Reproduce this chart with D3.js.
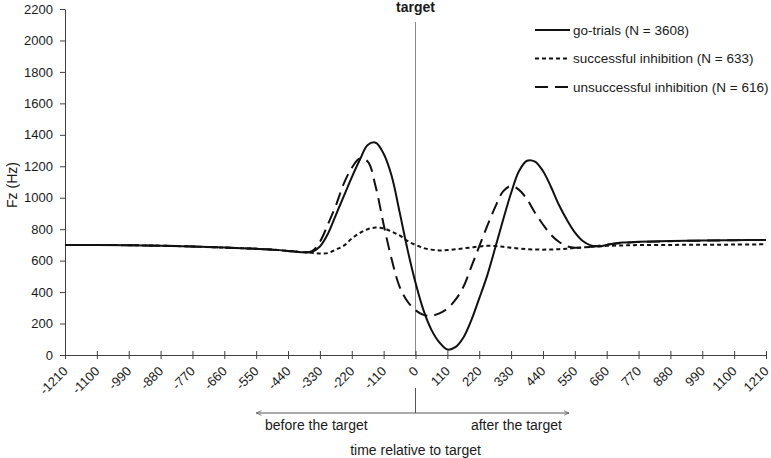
<!DOCTYPE html>
<html>
<head>
<meta charset="utf-8">
<script src="https://cdn.jsdelivr.net/npm/d3@7"></script>
<style>
  body { margin: 0; background: #fff; }
  text { font-family: "Liberation Sans", Arial, sans-serif; fill: #1a1a1a; }
  .axis path, .axis line { stroke: #404040; }
</style>
</head>
<body>
<div id="chart"></div>
<script>
// time points (ms relative to target)
const times = [-1210, -1100, -990, -880, -770, -660, -550, -495, -440, -412.5, -385, -357.5,
  -330, -302.5, -275, -247.5, -220, -192.5, -165, -137.5, -110, -82.5, -55, -27.5,
  0, 27.5, 55, 82.5, 110, 137.5, 165, 192.5, 220, 247.5, 275, 302.5, 330, 357.5,
  385, 412.5, 440, 467.5, 495, 522.5, 550, 577.5, 605, 632.5, 660, 715, 770, 880,
  990, 1100, 1210];

const goTrials = [700, 700, 698, 695, 690, 683, 675, 670, 662, 657, 653, 656,
  690, 770, 890, 1010, 1130, 1240, 1335, 1350, 1280, 1140, 910, 670,
  460, 285, 160, 80, 35, 50, 110, 220, 360, 505, 680, 860, 1030, 1170,
  1235, 1230, 1170, 1070, 955, 860, 780, 725, 697, 690, 700, 715, 720, 725,
  728, 730, 732];

const successfulInhibition = [700, 700, 698, 695, 690, 683, 675, 670, 662, 658, 653, 650,
  645, 648, 670, 695, 740, 775, 800, 810, 805, 785, 760, 725,
  700, 680, 670, 665, 667, 672, 678, 684, 690, 694, 693, 688, 682, 677,
  673, 671, 670, 671, 673, 676, 680, 684, 688, 691, 694, 697, 699, 700,
  701, 702, 704];

const unsuccessfulInhibition = [700, 700, 698, 695, 690, 683, 675, 670, 662, 657, 653, 660,
  720, 830, 950, 1090, 1190, 1250, 1230, 1070, 830, 610, 435, 340,
  285, 255, 250, 265, 295, 350, 432, 560, 690, 820, 940, 1040, 1075, 1050,
  990, 905, 830, 765, 720, 692, 682, 683, 688, 695, 702, 712, 718, 724,
  727, 730, 732];

const seriesNames = ['go-trials (N = 3608)', 'successful inhibition (N = 633)', 'unsuccessful inhibition (N = 616)'];
const seriesDash = ['none', '4,3', '13,7'];
const xTicks = d3.range(-1210, 1211, 110);
const yTicks = d3.range(0, 2201, 200);

class Chart {
    constructor(_config) {
        this.config = {
            parentElement: _config.parentElement,
            containerWidth: _config.width,
            containerHeight: _config.height,
        };
        this.margin = _config.margin;
        this.initVis();
    }

    initVis() {
        let vis = this;
        vis.width = vis.config.containerWidth - vis.margin.left - vis.margin.right;
        vis.height = vis.config.containerHeight - vis.margin.top - vis.margin.bottom;

        vis.xScale = d3.scaleLinear().domain([-1210, 1210]).range([0, vis.width]);
        vis.yScale = d3.scaleLinear().domain([0, 2200]).range([vis.height, 0]);

        vis.root = d3.select(vis.config.parentElement)
            .append('svg')
            .attr('width', vis.config.containerWidth)
            .attr('height', vis.config.containerHeight);

        vis.defs = vis.root.append('defs');
        vis.defs.append('marker')
            .attr('id', 'arrow')
            .attr('viewBox', '0 0 10 10')
            .attr('refX', 9).attr('refY', 5)
            .attr('markerWidth', 6).attr('markerHeight', 6)
            .attr('orient', 'auto-start-reverse')
            .append('path')
            .attr('d', 'M0,1 L9,5 L0,9')
            .attr('fill', 'none')
            .attr('stroke', '#555')
            .attr('stroke-width', 1.2);

        vis.svg = vis.root.append('g')
            .attr('transform', `translate(${vis.margin.left}, ${vis.margin.top})`);

        // plain hyphen minus like the original
        vis.xAxis = d3.axisBottom(vis.xScale).tickValues(xTicks).tickSize(4).tickSizeOuter(0).tickFormat(d => String(d));
        vis.yAxis = d3.axisLeft(vis.yScale).tickValues(yTicks).tickSize(5).tickSizeOuter(0).tickPadding(7).tickFormat(d => String(d));
    }

    renderVis() {
        let vis = this;
        const x0 = vis.xScale(0);

        // target line
        vis.svg.append('line')
            .attr('x1', x0).attr('x2', x0)
            .attr('y1', 22 - vis.margin.top).attr('y2', vis.height)
            .attr('stroke', '#8a8a8a').attr('stroke-width', 1);

        vis.svg.append('text')
            .attr('x', x0).attr('y', 12 - vis.margin.top)
            .attr('text-anchor', 'middle')
            .attr('font-size', 14).attr('font-weight', 'bold')
            .text('target');

        // y axis
        vis.yAxisG = vis.svg.append('g').attr('class', 'axis y-axis').call(vis.yAxis);
        vis.yAxisG.selectAll('text').attr('font-size', 13);

        // x axis, ticks cross the line, labels at -45deg
        vis.xAxisG = vis.svg.append('g')
            .attr('class', 'axis x-axis')
            .attr('transform', `translate(0, ${vis.height})`)
            .call(vis.xAxis);
        vis.xAxisG.selectAll('.tick line').attr('y1', -4).attr('y2', 4);
        vis.xAxisG.selectAll('.tick text')
            .attr('font-size', 13)
            .attr('text-anchor', 'end')
            .attr('y', 0)
            .attr('dy', 0)
            .attr('transform', 'translate(3, 17) rotate(-45)');

        // lines
        const lineData = [goTrials, successfulInhibition, unsuccessfulInhibition];
        const line = d3.line()
            .x((d, i) => vis.xScale(times[i]))
            .y(d => vis.yScale(d))
            .curve(d3.curveCatmullRom.alpha(0.5));

        lineData.forEach((vals, idx) => {
            vis.svg.append('path')
                .datum(vals)
                .attr('fill', 'none')
                .attr('stroke', '#111')
                .attr('stroke-width', 2)
                .attr('stroke-dasharray', seriesDash[idx])
                .attr('d', line);
        });

        // legend
        const legend = vis.svg.append('g').attr('transform', `translate(${535 - vis.margin.left}, ${30 - vis.margin.top})`);
        seriesNames.forEach((name, idx) => {
            const g = legend.append('g').attr('transform', `translate(0, ${idx * 28.5})`);
            g.append('line')
                .attr('x1', 0).attr('x2', 35)
                .attr('stroke', '#111').attr('stroke-width', 2)
                .attr('stroke-dasharray', seriesDash[idx]);
            g.append('text')
                .attr('x', 38).attr('dy', '0.35em')
                .attr('font-size', 13.5)
                .text(name);
        });

        // y label
        vis.svg.append('text')
            .attr('transform', `translate(${12 - vis.margin.left}, ${vis.yScale(1100) + 3}) rotate(-90)`)
            .attr('text-anchor', 'middle')
            .attr('dy', '0.35em')
            .attr('font-size', 14)
            .text('Fz (Hz)');

        // before / after arrows
        const yArrow = 413 - vis.margin.top;
        vis.svg.append('line')
            .attr('x1', x0).attr('x2', x0)
            .attr('y1', 388 - vis.margin.top).attr('y2', yArrow)
            .attr('stroke', '#555').attr('stroke-width', 1);
        vis.svg.append('line')
            .attr('x1', x0).attr('x2', vis.xScale(-550))
            .attr('y1', yArrow).attr('y2', yArrow)
            .attr('stroke', '#555').attr('stroke-width', 1)
            .attr('marker-end', 'url(#arrow)');
        vis.svg.append('line')
            .attr('x1', x0).attr('x2', vis.xScale(530))
            .attr('y1', yArrow).attr('y2', yArrow)
            .attr('stroke', '#555').attr('stroke-width', 1)
            .attr('marker-end', 'url(#arrow)');

        vis.svg.append('text')
            .attr('x', 265 - vis.margin.left).attr('y', 430 - vis.margin.top)
            .attr('font-size', 14)
            .text('before the target');
        vis.svg.append('text')
            .attr('x', 562 - vis.margin.left).attr('y', 430 - vis.margin.top)
            .attr('text-anchor', 'end')
            .attr('font-size', 14)
            .text('after the target');
        vis.svg.append('text')
            .attr('x', x0).attr('y', 455 - vis.margin.top)
            .attr('text-anchor', 'middle')
            .attr('font-size', 14)
            .text('time relative to target');
    }
}

const chart = new Chart({
    parentElement: '#chart',
    width: 771,
    height: 458,
    margin: { top: 9, right: 5, bottom: 103, left: 65 }
});
chart.renderVis();
</script>
</body>
</html>
